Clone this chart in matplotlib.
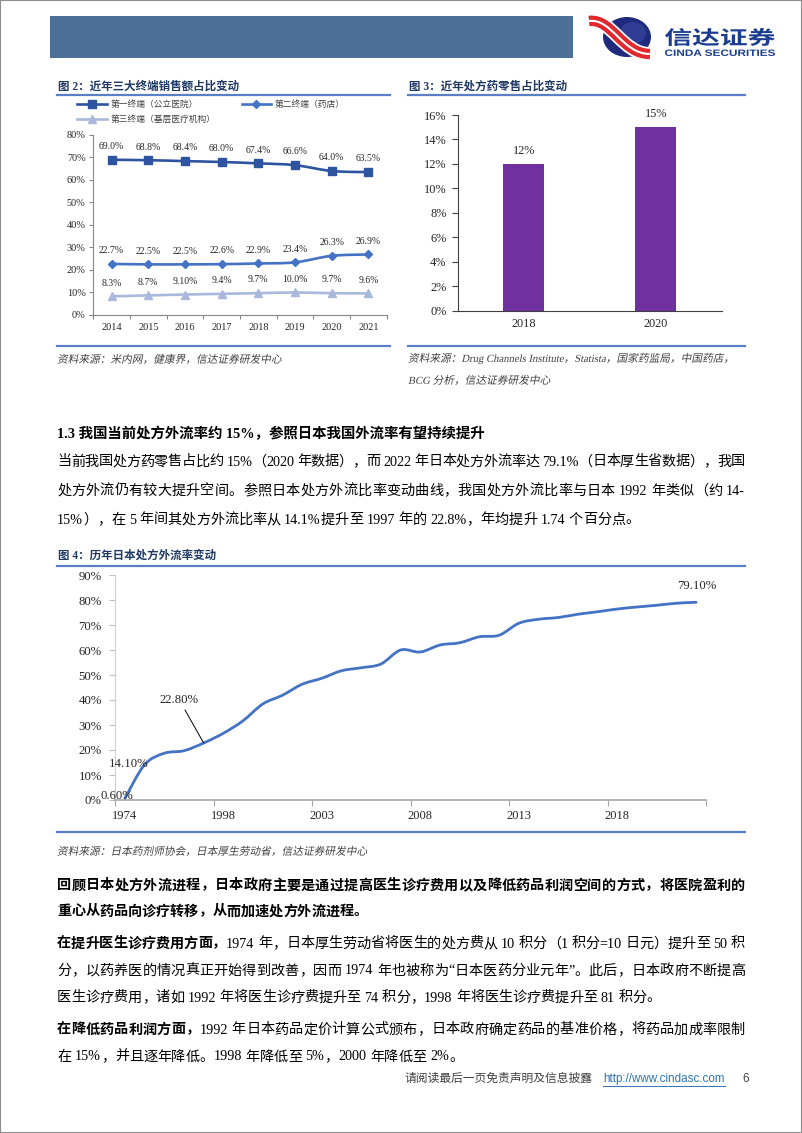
import numpy as np
import matplotlib
matplotlib.use("Agg")
import matplotlib.pyplot as plt
from matplotlib.path import Path
from matplotlib.patches import PathPatch, Rectangle, Ellipse
from matplotlib.lines import Line2D
from matplotlib.textpath import TextPath
from matplotlib.font_manager import FontProperties

plt.rcParams['font.family'] = ['Liberation Serif', 'Noto Sans CJK SC']
plt.rcParams['axes.unicode_minus'] = False

# ---- 图2 数据 ----
years2 = ['2014', '2015', '2016', '2017', '2018', '2019', '2020', '2021']
first_terminal = [69.0, 68.8, 68.4, 68.0, 67.4, 66.6, 64.0, 63.5]
second_terminal = [22.7, 22.5, 22.5, 22.6, 22.9, 23.4, 26.3, 26.9]
third_terminal = [8.3, 8.7, 9.1, 9.4, 9.7, 10.0, 9.7, 9.6]
third_labels = ['8.3%', '8.7%', '9.10%', '9.4%', '9.7%', '10.0%', '9.7%', '9.6%']
series_names = ['第一终端（公立医院）', '第二终端（药店）', '第三终端（基层医疗机构）']

# ---- 图3 数据 ----
years3 = ['2018', '2020']
rx_retail_share = [12, 15]

# ---- 图4 数据 ----
years4 = ['1974', '1992', '1994', '1996', '1997', '1998', '1999', '2000', '2001', '2002',
          '2003', '2004', '2005', '2006', '2007', '2008', '2009', '2010', '2011', '2012',
          '2013', '2014', '2015', '2016', '2017', '2018', '2019', '2020', '2021', '2022']
japan_rate = [0.6, 14.1, 18.7, 19.7, 22.8, 26.7, 31.7, 38.4, 41.9, 46.3,
              48.7, 51.7, 52.9, 54.4, 60.0, 59.2, 62.0, 62.9, 65.3, 65.9,
              70.7, 72.3, 73.0, 74.3, 75.3, 76.4, 77.2, 77.9, 78.7, 79.1]
japan_labels = {0: '0.60%', 1: '14.10%', 4: '22.80%', 29: '79.10%'}

W, H = 802, 1133
fig = plt.figure(figsize=(W / 100, H / 100), dpi=100)
fig.patch.set_facecolor('white')
renderer = fig.canvas.get_renderer()


def rect(x0, y0, x1, y1):
    return [x0 / W, 1 - y1 / H, (x1 - x0) / W, (y1 - y0) / H]


def put(x, y, s, size=10, weight='normal', color='black', style='normal', ha='left', family=None):
    kw = dict(fontsize=size, fontweight=weight, color=color, style=style, ha=ha, va='center')
    if family is not None:
        kw['family'] = family
    return fig.text(x / W, 1 - y / H, s, **kw)


def put_italic(x, y, s, size, color):
    # 斜体：用 TextPath 做剪切变形（中文字体没有斜体）
    em = size * 100 / 72
    prop = FontProperties(family=['Liberation Serif', 'Noto Sans CJK SC'])
    tp = TextPath((0, 0), s, size=em, prop=prop)
    v = tp.vertices.copy()
    base = y + 0.36 * em
    vx = x + v[:, 0] + 0.2 * v[:, 1]
    vy = base - v[:, 1]
    verts = np.column_stack([vx / W, 1 - vy / H])
    fig.add_artist(PathPatch(Path(verts, tp.codes), transform=fig.transFigure,
                             facecolor=color, edgecolor='none'))


_adv = {}


def advance(s, size, weight):
    key = (s, size, weight)
    if key not in _adv:
        a = fig.text(0, 0, 'I' + s + 'I', fontsize=size, fontweight=weight)
        b = fig.text(0, 0, 'II', fontsize=size, fontweight=weight)
        _adv[key] = a.get_window_extent(renderer).width - b.get_window_extent(renderer).width
        a.remove()
        b.remove()
    return _adv[key]


def tokens(s):
    out, buf = [], ''
    for ch in s:
        if ord(ch) < 128 and ch != ' ':
            buf += ch
        else:
            if buf:
                out.append(buf)
                buf = ''
            out.append(ch)
    if buf:
        out.append(buf)
    return out


def put_line(y, runs, size=10.2, justify=True, x0=57, x1=745):
    # 两端对齐：把多余宽度均分到字符间
    toks = [(t, w) for s, w in runs for t in tokens(s)]
    advs = [advance(t, size, w) for t, w in toks]
    extra = (x1 - x0 - sum(advs)) / (len(toks) - 1) if justify else 0
    x = x0
    for (t, w), a in zip(toks, advs):
        if t != ' ':
            put(x, y, t, size, w)
        x += a + extra


def hline(x0, x1, y, color='#5B7FC7', lw=1.6):
    fig.add_artist(Line2D([x0 / W, x1 / W], [1 - y / H, 1 - y / H], color=color, lw=lw,
                          transform=fig.transFigure))


def smooth_path(xs, ys):
    # 平滑曲线（Catmull-Rom -> 贝塞尔）
    P = np.column_stack([xs, ys]).astype(float)
    n = len(P)
    verts = [P[0]]
    codes = [Path.MOVETO]
    for i in range(n - 1):
        p0 = P[i - 1] if i > 0 else P[i]
        p1, p2 = P[i], P[i + 1]
        p3 = P[i + 2] if i + 2 < n else P[i + 1]
        verts += [p1 + (p2 - p0) / 6, p2 - (p3 - p1) / 6, p2]
        codes += [Path.CURVE4] * 3
    return Path(verts, codes)


# ---- 页面边框 ----
fig.add_artist(Rectangle((0, 0), 1, 1, transform=fig.transFigure, fill=False,
                         edgecolor='#8c8c8c', lw=1.5))

# ---- 页眉 ----
fig.add_artist(Rectangle((50 / W, 1 - 58 / H), 523 / W, 42 / H, transform=fig.transFigure,
                         facecolor='#4C7098', edgecolor='none'))
fig.add_artist(Ellipse((627 / W, 1 - 37 / H), 48 / W, 40 / H, transform=fig.transFigure,
                       facecolor='#1f2a7c', edgecolor='none'))
fig.add_artist(Ellipse((633 / W, 1 - 33 / H), 26 / W, 22 / H, transform=fig.transFigure,
                       facecolor='#3a4aa5', edgecolor='none', alpha=0.6))
ribbon = [(589, 21), (612, 18), (622, 54), (650, 54)]
rv = [(x / W, 1 - y / H) for x, y in ribbon]
rp = Path(rv, [Path.MOVETO, Path.CURVE4, Path.CURVE4, Path.CURVE4])
fig.add_artist(PathPatch(rp, transform=fig.transFigure, fill=False, edgecolor='white', lw=10))
fig.add_artist(PathPatch(rp, transform=fig.transFigure, fill=False, edgecolor='#e0282e', lw=7.5))
fig.add_artist(PathPatch(rp, transform=fig.transFigure, fill=False, edgecolor='white', lw=1.5))


def logo_text(s, x0, y0, x1, y1, prop, color):
    tp = TextPath((0, 0), s, size=1, prop=prop)
    ext = tp.get_extents()
    v = tp.vertices.copy()
    v[:, 0] = x0 + (v[:, 0] - ext.x0) / ext.width * (x1 - x0)
    v[:, 1] = y1 - (v[:, 1] - ext.y0) / ext.height * (y1 - y0)
    v[:, 0] /= W
    v[:, 1] = 1 - v[:, 1] / H
    fig.add_artist(PathPatch(Path(v, tp.codes), transform=fig.transFigure,
                             facecolor=color, edgecolor='none'))


logo_text('信达证券', 665, 28, 775, 46, FontProperties(family='Noto Sans CJK SC', weight='bold'), '#1B3D8F')
logo_text('CINDA SECURITIES', 665, 49.5, 775, 56, FontProperties(family='Liberation Sans', weight='bold'), '#1B3D8F')

# ---- 图2 / 图3 标题 ----
title_color = '#1F3864'
put(58, 87, '图 2：近年三大终端销售额占比变动', 8.3, 'bold', title_color)
put(409, 87, '图 3：近年处方药零售占比变动', 8.3, 'bold', title_color)
hline(57, 390, 95)
hline(408, 745, 95)
hline(57, 390, 346)
hline(408, 745, 346)
src_color = '#404040'
put_italic(57, 359, '资料来源：米内网，健康界，信达证券研发中心', 7.7, src_color)
put_italic(408, 358, '资料来源：Drug Channels Institute，Statista，国家药监局，中国药店，', 7.7, src_color)
put_italic(408, 380, 'BCG 分析，信达证券研发中心', 7.7, src_color)

# ---- 图2 折线 ----
ax2 = fig.add_axes(rect(93.3, 135, 386.7, 315))
x2 = np.arange(len(years2))
c1, c2, c3 = '#2E54A0', '#4472C4', '#A9B8DC'
styles = [(first_terminal, c1, 's', 6.0), (second_terminal, c2, 'D', 4.2), (third_terminal, c3, '^', 5.5)]
handles = []
for (vals, col, mk, ms), name in zip(styles, series_names):
    ax2.add_patch(PathPatch(smooth_path(x2, vals), fill=False, edgecolor=col, lw=1.9,
                            capstyle='round', joinstyle='round'))
    ax2.plot(x2, vals, linestyle='none', marker=mk, ms=ms, color=col, zorder=3)
    handles.append(Line2D([], [], color=col, lw=1.9, marker=mk, ms=ms, label=name))
for i in range(len(years2)):
    ax2.annotate(f'{first_terminal[i]:.1f}%', (x2[i], first_terminal[i]), xytext=(0, 9.5),
                 textcoords='offset points', ha='center', va='center', fontsize=7, color='#262626')
    ax2.annotate(f'{second_terminal[i]:.1f}%', (x2[i], second_terminal[i]), xytext=(0, 9.5),
                 textcoords='offset points', ha='center', va='center', fontsize=7, color='#262626')
    ax2.annotate(third_labels[i], (x2[i], third_terminal[i]), xytext=(0, 9.5),
                 textcoords='offset points', ha='center', va='center', fontsize=7, color='#262626')
ax2.set_xlim(-0.5, len(years2) - 0.5)
ax2.set_ylim(0, 80)
ax2.set_yticks(np.arange(0, 81, 10))
ax2.set_yticklabels([f'{v}%' for v in range(0, 81, 10)])
ax2.set_xticks(x2)
ax2.set_xticklabels(years2)
ax2.set_xticks(np.arange(-0.5, len(years2)), minor=True)
ax2.tick_params(axis='x', which='major', length=0, labelsize=7.4, pad=6, labelcolor='#262626')
ax2.tick_params(axis='x', which='minor', length=3, width=0.8, color='#868686')
ax2.tick_params(axis='y', length=3, width=0.8, color='#868686', labelsize=7.4, pad=2.5,
                labelcolor='#262626')
for s in ['top', 'right']:
    ax2.spines[s].set_visible(False)
for s in ['left', 'bottom']:
    ax2.spines[s].set_color('#868686')
    ax2.spines[s].set_linewidth(0.8)
ax2.patch.set_alpha(0)
leg = ax2.legend(handles=[handles[0], handles[2], handles[1]], ncol=2, loc='upper left',
                 bbox_to_anchor=(77 / W, 1 - 100 / H), bbox_transform=fig.transFigure,
                 frameon=False, fontsize=6.3, handlelength=3.4, handletextpad=0.4,
                 columnspacing=3.0, labelspacing=0.75, borderpad=0, borderaxespad=0)
for t in leg.get_texts():
    t.set_color('#404040')

# ---- 图3 柱状 ----
ax3 = fig.add_axes(rect(457.7, 115, 721.7, 310.7))
x3 = np.arange(len(years3))
ax3.bar(x3, rx_retail_share, width=0.31, color='#7030A0')
for i, v in enumerate(rx_retail_share):
    ax3.annotate(f'{v}%', (x3[i], v), xytext=(0, 9.2), textcoords='offset points',
                 ha='center', va='center', fontsize=8.8, color='#262626')
ax3.set_xlim(-0.5, len(years3) - 0.5)
ax3.set_ylim(0, 16)
ax3.set_yticks(np.arange(0, 17, 2))
ax3.set_yticklabels([f'{v}%' for v in range(0, 17, 2)])
ax3.set_xticks(x3)
ax3.set_xticklabels(years3)
ax3.tick_params(axis='x', length=0, labelsize=8.8, pad=5.5, labelcolor='#262626')
ax3.tick_params(axis='y', length=4, width=0.8, color='#404040', labelsize=8.9, pad=4,
                labelcolor='#262626')
for s in ['top', 'right']:
    ax3.spines[s].set_visible(False)
for s in ['left', 'bottom']:
    ax3.spines[s].set_color('#404040')
    ax3.spines[s].set_linewidth(0.8)

# ---- 1.3 节正文 ----
put(57, 434, '1.3 我国当前处方外流率约 15%，参照日本我国外流率有望持续提升', 10.4, 'bold')
put_line(462, [('当前我国处方药零售占比约 15%（2020 年数据），而 2022 年日本处方外流率达 79.1%（日本厚生省数据），我国', 'normal')])
put_line(491, [('处方外流仍有较大提升空间。参照日本处方外流比率变动曲线，我国处方外流比率与日本 1992 年类似（约 14-', 'normal')])
put_line(520, [('15%），在 5 年间其处方外流比率从 14.1%提升至 1997 年的 22.8%，年均提升 1.74 个百分点。', 'normal')],
         justify=False)

# ---- 图4 ----
put(58, 556, '图 4：历年日本处方外流率变动', 8.3, 'bold', title_color)
hline(57, 745, 566)
ax4 = fig.add_axes(rect(115, 575, 706, 800))
x4 = np.arange(len(years4))
ax4.add_patch(PathPatch(smooth_path(x4, japan_rate), fill=False, edgecolor='#4472C4', lw=2.0,
                        capstyle='round', joinstyle='round'))
ax4.plot(x4, japan_rate, linestyle='none')
offsets = {0: (-5.7, 1.8), 1: (-11.6, 0.5), 4: (-17.5, 31), 29: (0.6, 11.7)}
for i, lab in japan_labels.items():
    arrow = dict(arrowstyle='-', color='black', lw=0.7, shrinkA=1, shrinkB=0) if i == 4 else None
    ax4.annotate(lab, (x4[i], japan_rate[i]), xytext=offsets[i], textcoords='offset points',
                 ha='center', va='center', fontsize=9.2, color='#262626', arrowprops=arrow)
ax4.set_xlim(-0.5, len(years4) - 0.5)
ax4.set_ylim(0, 90)
ax4.set_yticks(np.arange(0, 91, 10))
ax4.set_yticklabels([f'{v}%' for v in range(0, 91, 10)])
ax4.set_xticks(x4[::5])
ax4.set_xticklabels(years4[::5])
ax4.set_xticks(np.arange(-0.5, len(years4), 5), minor=True)
ax4.tick_params(axis='x', which='major', length=0, labelsize=9, pad=7, labelcolor='#262626')
ax4.tick_params(axis='x', which='minor', length=4, width=0.8, color='#A6A6A6')
ax4.tick_params(axis='y', length=4, width=0.8, color='#BFBFBF', labelsize=9.2, pad=5.5,
                labelcolor='#262626')
for s in ['top', 'right']:
    ax4.spines[s].set_visible(False)
ax4.spines['left'].set_color('#D0D0D0')
ax4.spines['bottom'].set_color('#A6A6A6')
ax4.spines['bottom'].set_linewidth(1.2)
ax4.patch.set_alpha(0)
hline(57, 745, 832)
put_italic(57, 851, '资料来源：日本药剂师协会，日本厚生劳动省，信达证券研发中心', 7.7, src_color)

# ---- 下方正文 ----
put_line(886, [('回顾日本处方外流进程，日本政府主要是通过提高医生诊疗费用以及降低药品利润空间的方式，将医院盈利的', 'bold')])
put_line(912, [('重心从药品向诊疗转移，从而加速处方外流进程。', 'bold')], justify=False)
put_line(944, [('在提升医生诊疗费用方面，', 'bold'),
               ('1974 年，日本厚生劳动省将医生的处方费从 10 积分（1 积分=10 日元）提升至 50 积', 'normal')])
put_line(971, [('分，以药养医的情况真正开始得到改善，因而 1974 年也被称为“日本医药分业元年”。此后，日本政府不断提高', 'normal')])
put_line(998, [('医生诊疗费用，诸如 1992 年将医生诊疗费提升至 74 积分，1998 年将医生诊疗费提升至 81 积分。', 'normal')],
         justify=False)
put_line(1030, [('在降低药品利润方面，', 'bold'),
                ('1992 年日本药品定价计算公式颁布，日本政府确定药品的基准价格，将药品加成率限制', 'normal')])
put_line(1057, [('在 15%，并且逐年降低。1998 年降低至 5%，2000 年降低至 2%。', 'normal')], justify=False)

# ---- 页脚 ----
put(404, 1079, '请阅读最后一页免责声明及信息披露', 8.5, color='#404040')
url = put(603, 1079, 'http://www.cindasc.com', 8.4, color='#2E74B5', family='Liberation Sans')
bb = url.get_window_extent(renderer)
hline(bb.x0, bb.x1, 1086, color='#2E74B5', lw=0.7)
put(742, 1079, '6', 8.5, color='#404040', family='Liberation Sans')

fig.savefig('out.png', dpi=100, facecolor='white')
